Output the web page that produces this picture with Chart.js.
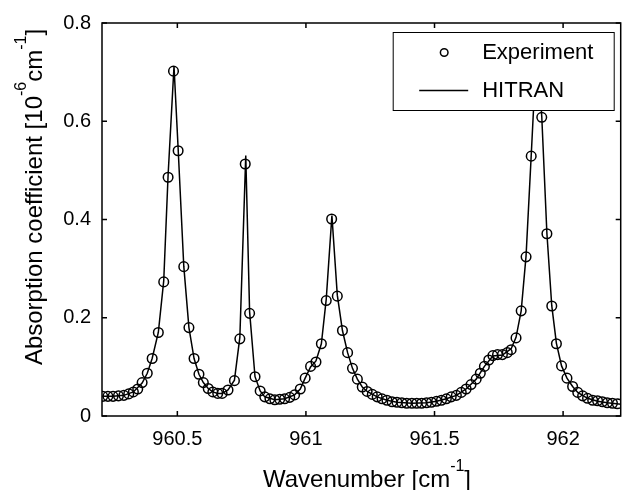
<!DOCTYPE html>
<html>
<head>
<meta charset="utf-8">
<script src="https://cdn.jsdelivr.net/npm/chart.js@4.4.0/dist/chart.umd.min.js"></script>
<style>
  html, body { margin: 0; padding: 0; background: #fff; }
  #wrap { width: 627px; height: 490px; }
</style>
</head>
<body>
<div id="wrap"><canvas id="chart" width="627" height="490"></canvas></div>
<script>
// measured absorption (circles)
const expWave = [
  960.210, 960.230, 960.250, 960.271, 960.292, 960.311, 960.329, 960.346, 960.363, 960.383,
  960.402, 960.426, 960.447, 960.464, 960.485, 960.503, 960.525, 960.545, 960.565, 960.584,
  960.601, 960.620, 960.638, 960.657, 960.674, 960.697, 960.722, 960.743, 960.764, 960.781,
  960.802, 960.822, 960.840, 960.860, 960.879, 960.898, 960.917, 960.937, 960.956, 960.978,
  960.997, 961.018, 961.039, 961.060, 961.079, 961.100, 961.122, 961.142, 961.162, 961.181,
  961.200, 961.219, 961.238, 961.258, 961.277, 961.296, 961.315, 961.335, 961.354, 961.373,
  961.392, 961.412, 961.431, 961.450, 961.469, 961.488, 961.508, 961.527, 961.546, 961.565,
  961.585, 961.604, 961.623, 961.642, 961.662, 961.678, 961.694, 961.711, 961.727, 961.745,
  961.764, 961.783, 961.798, 961.817, 961.837, 961.856, 961.876, 961.896, 961.917, 961.937,
  961.956, 961.974, 961.994, 962.015, 962.037, 962.057, 962.076, 962.095, 962.115, 962.134,
  962.153, 962.172, 962.192, 962.211
];
const expAbs = [
  0.040, 0.040, 0.040, 0.041, 0.042, 0.045, 0.049, 0.055, 0.068, 0.087,
  0.117, 0.170, 0.273, 0.486, 0.702, 0.540, 0.304, 0.180, 0.117, 0.085,
  0.068, 0.056, 0.049, 0.046, 0.046, 0.053, 0.072, 0.157, 0.513, 0.209,
  0.080, 0.051, 0.039, 0.035, 0.033, 0.034, 0.035, 0.038, 0.043, 0.055,
  0.077, 0.101, 0.110, 0.147, 0.235, 0.401, 0.244, 0.174, 0.129, 0.097,
  0.075, 0.059, 0.050, 0.044, 0.039, 0.035, 0.032, 0.029, 0.028, 0.027,
  0.026, 0.026, 0.026, 0.026, 0.027, 0.028, 0.030, 0.032, 0.035, 0.039,
  0.042, 0.048, 0.055, 0.064, 0.075, 0.087, 0.101, 0.114, 0.123, 0.125,
  0.125, 0.129, 0.135, 0.159, 0.214, 0.324, 0.529, 0.740, 0.608, 0.371,
  0.224, 0.147, 0.102, 0.077, 0.060, 0.048, 0.041, 0.036, 0.032, 0.031,
  0.029, 0.027, 0.026, 0.025
];

// HITRAN simulation (solid line)
const hitranWave = [
  960.208, 960.250, 960.292, 960.329, 960.363, 960.383, 960.402, 960.426, 960.447, 960.464,
  960.487, 960.503, 960.525, 960.545, 960.565, 960.584, 960.601, 960.620, 960.638, 960.657,
  960.674, 960.697, 960.722, 960.743, 960.766, 960.781, 960.802, 960.822, 960.840, 960.879,
  960.917, 960.956, 960.978, 960.997, 961.018, 961.039, 961.060, 961.079, 961.101, 961.122,
  961.142, 961.162, 961.181, 961.200, 961.219, 961.238, 961.277, 961.315, 961.354, 961.412,
  961.469, 961.508, 961.546, 961.585, 961.623, 961.662, 961.694, 961.727, 961.764, 961.798,
  961.817, 961.837, 961.856, 961.876, 961.898, 961.917, 961.937, 961.956, 961.974, 961.994,
  962.015, 962.037, 962.057, 962.095, 962.134, 962.172, 962.226
];
const hitranAbs = [
  0.040, 0.040, 0.042, 0.049, 0.067, 0.087, 0.117, 0.170, 0.275, 0.490,
  0.712, 0.545, 0.305, 0.180, 0.117, 0.085, 0.068, 0.056, 0.049, 0.046,
  0.046, 0.053, 0.073, 0.160, 0.530, 0.212, 0.080, 0.051, 0.039, 0.033,
  0.035, 0.043, 0.055, 0.077, 0.100, 0.112, 0.147, 0.238, 0.408, 0.246,
  0.174, 0.129, 0.097, 0.075, 0.059, 0.050, 0.039, 0.032, 0.028, 0.026,
  0.027, 0.030, 0.035, 0.042, 0.055, 0.075, 0.101, 0.122, 0.124, 0.137,
  0.160, 0.214, 0.326, 0.530, 0.760, 0.610, 0.372, 0.224, 0.148, 0.102,
  0.077, 0.060, 0.048, 0.036, 0.030, 0.027, 0.024
];

const xTicks = [960.5, 961, 961.5, 962];
const xTickLabels = ["960.5", "961", "961.5", "962"];
const yTicks = [0, 0.2, 0.4, 0.6, 0.8];
const yTickLabels = ["0", "0.2", "0.4", "0.6", "0.8"];
const seriesNames = ["Experiment", "HITRAN"];
const xTitleParts = [["Wavenumber [cm", false], ["-1", true], ["]", false]];
const yTitleParts = [["Absorption coefficient [10", false], ["-6", true], ["cm", false], ["-1", true], ["]", false]];

const FONT = "'Liberation Sans', Arial, Helvetica, sans-serif";

const toPoints = (xs, ys) => xs.map((x, i) => ({ x, y: ys[i] }));

const drawRich = (ctx, parts, cx, baseline) => {
    const fontFor = (sup) => sup ? `16px ${FONT}` : `24px ${FONT}`;
    let total = 0;
    parts.forEach(([text, sup]) => {
        ctx.font = fontFor(sup);
        total += ctx.measureText(text).width;
    });
    let x = cx - total / 2;
    parts.forEach(([text, sup]) => {
        ctx.font = fontFor(sup);
        ctx.fillText(text, x, sup ? baseline - 16 : baseline);
        x += ctx.measureText(text).width;
    });
};

// axes box with inward ticks, like matlab
const frame = {
    id: "frame",
    afterDatasetsDraw(chart) {
        const { ctx, chartArea: a, scales } = chart;
        const len = 5;
        ctx.save();
        ctx.strokeStyle = "#000";
        ctx.lineWidth = 1.5;
        ctx.strokeRect(a.left, a.top, a.right - a.left, a.bottom - a.top);
        ctx.beginPath();
        xTicks.forEach(v => {
            const px = scales.x.getPixelForValue(v);
            ctx.moveTo(px, a.bottom); ctx.lineTo(px, a.bottom - len);
            ctx.moveTo(px, a.top); ctx.lineTo(px, a.top + len);
        });
        yTicks.forEach(v => {
            const py = scales.y.getPixelForValue(v);
            ctx.moveTo(a.left, py); ctx.lineTo(a.left + len, py);
            ctx.moveTo(a.right, py); ctx.lineTo(a.right - len, py);
        });
        ctx.stroke();
        ctx.restore();
    }
};

const legendAndTitles = {
    id: "legendAndTitles",
    afterDraw(chart) {
        const { ctx, chartArea: a } = chart;
        ctx.save();
        ctx.fillStyle = "#000";
        ctx.textBaseline = "alphabetic";
        drawRich(ctx, xTitleParts, 367, 487);
        ctx.save();
        ctx.translate(41.5, 197);
        ctx.rotate(-Math.PI / 2);
        drawRich(ctx, yTitleParts, 0, 0);
        ctx.restore();

        // legend box
        const w = 221, h = 78;
        const left = a.right - 7 - w, top = a.top + 9;
        ctx.fillStyle = "#fff";
        ctx.fillRect(left, top, w, h);
        ctx.strokeStyle = "#000";
        ctx.lineWidth = 1;
        ctx.strokeRect(left + 0.5, top + 0.5, w, h);

        const row1 = top + 20.5, row2 = top + 58.5;
        ctx.lineWidth = 1.5;
        ctx.beginPath();
        ctx.arc(left + 51.5, row1, 3.8, 0, Math.PI * 2);
        ctx.stroke();
        ctx.beginPath();
        ctx.moveTo(left + 26.5, row2);
        ctx.lineTo(left + 75.5, row2);
        ctx.stroke();

        ctx.fillStyle = "#000";
        ctx.font = `22px ${FONT}`;
        ctx.textBaseline = "middle";
        ctx.fillText(seriesNames[0], left + 89.5, row1);
        ctx.fillText(seriesNames[1], left + 89.5, row2);
        ctx.restore();
    }
};

new Chart(document.getElementById("chart"), {
    type: "scatter",
    data: {
        datasets: [
            {
                label: seriesNames[0],
                data: toPoints(expWave, expAbs),
                showLine: false,
                pointStyle: "circle",
                pointRadius: 4.8,
                pointBorderWidth: 1.5,
                pointBorderColor: "#000",
                pointBackgroundColor: "rgba(0,0,0,0)",
                borderColor: "#000"
            },
            {
                label: seriesNames[1],
                data: toPoints(hitranWave, hitranAbs),
                showLine: true,
                tension: 0,
                pointRadius: 0,
                borderWidth: 1.5,
                borderColor: "#000"
            }
        ]
    },
    options: {
        responsive: false,
        animation: false,
        devicePixelRatio: 1,
        layout: { padding: { left: 0, top: 21, right: 2, bottom: 0 } },
        plugins: {
            legend: { display: false },
            tooltip: { enabled: false }
        },
        scales: {
            x: {
                type: "linear",
                min: 960.207,
                max: 962.224,
                grid: { display: false, drawTicks: false },
                border: { display: false },
                ticks: {
                    color: "#000",
                    font: { family: FONT, size: 20 },
                    padding: 11,
                    maxRotation: 0,
                    autoSkip: false,
                    callback: (v, i) => xTickLabels[i]
                },
                afterBuildTicks: s => { s.ticks = xTicks.map(value => ({ value })); },
                afterFit: s => { s.height = 74; }
            },
            y: {
                type: "linear",
                min: 0,
                max: 0.8,
                grid: { display: false, drawTicks: false },
                border: { display: false },
                ticks: {
                    color: "#000",
                    font: { family: FONT, size: 20 },
                    padding: 11,
                    autoSkip: false,
                    callback: (v, i) => yTickLabels[i]
                },
                afterBuildTicks: s => { s.ticks = yTicks.map(value => ({ value })); },
                afterFit: s => { s.width = 102; }
            }
        }
    },
    plugins: [frame, legendAndTitles]
});
</script>
</body>
</html>
